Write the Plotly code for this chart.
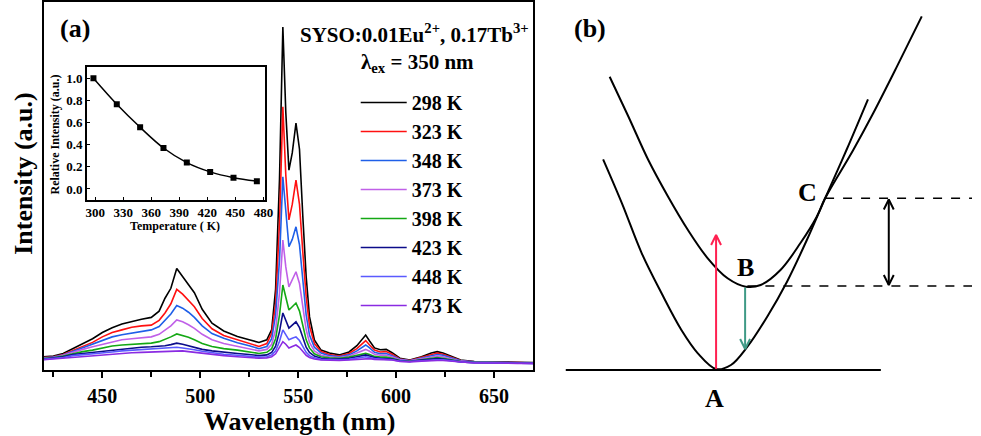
import plotly.graph_objects as go

W_PX, H_PX = 981, 436
FONT = "Liberation Serif"

# ---------------- Panel (a) data: emission spectra ----------------
wavelength = [420, 425, 430, 435, 440, 445, 450, 455, 460, 465, 470, 475, 479, 482, 485, 488,
              491, 494, 497, 501, 506, 512, 519, 525, 530, 534, 536.5, 538.5, 540.5, 542.2,
              543.7, 545.3, 547, 548.9, 550.7, 552.4, 554.1, 555.8, 558.3, 561.7, 566, 571,
              576, 580, 582.5, 584.5, 586.5, 589, 592, 595, 598, 602, 607, 613, 618, 621, 624,
              628, 633, 640, 648, 655, 662, 670]

I_298 = [0.036, 0.038, 0.045, 0.058, 0.070, 0.085, 0.102, 0.115, 0.125, 0.132, 0.138, 0.143, 0.160, 0.195, 0.222, 0.276,
         0.254, 0.232, 0.210, 0.165, 0.127, 0.106, 0.091, 0.082, 0.075, 0.082, 0.110, 0.220, 0.520, 0.932,
         0.700, 0.543, 0.590, 0.671, 0.600, 0.417, 0.254, 0.145, 0.082, 0.054, 0.046, 0.041,
         0.049, 0.066, 0.082, 0.095, 0.079, 0.060, 0.055, 0.056, 0.047, 0.032, 0.027, 0.036, 0.046, 0.050, 0.046,
         0.038, 0.027, 0.023, 0.023, 0.022, 0.021, 0.020]
I_323 = [0.034, 0.036, 0.042, 0.053, 0.063, 0.075, 0.090, 0.102, 0.109, 0.116, 0.120, 0.122, 0.135, 0.155, 0.180, 0.219,
         0.206, 0.190, 0.172, 0.140, 0.112, 0.094, 0.082, 0.073, 0.064, 0.072, 0.100, 0.180, 0.400, 0.715,
         0.530, 0.408, 0.450, 0.516, 0.450, 0.320, 0.200, 0.120, 0.072, 0.050, 0.042, 0.038,
         0.045, 0.058, 0.070, 0.080, 0.068, 0.054, 0.049, 0.050, 0.043, 0.030, 0.026, 0.034, 0.042, 0.046, 0.043,
         0.036, 0.026, 0.022, 0.022, 0.021, 0.020, 0.019]
I_348 = [0.033, 0.035, 0.041, 0.051, 0.060, 0.070, 0.080, 0.090, 0.096, 0.101, 0.105, 0.109, 0.118, 0.135, 0.152, 0.175,
         0.168, 0.157, 0.143, 0.120, 0.099, 0.086, 0.074, 0.066, 0.058, 0.064, 0.085, 0.150, 0.300, 0.525,
         0.420, 0.335, 0.355, 0.389, 0.340, 0.240, 0.150, 0.095, 0.062, 0.046, 0.039, 0.036,
         0.041, 0.052, 0.061, 0.068, 0.060, 0.048, 0.044, 0.045, 0.039, 0.029, 0.025, 0.032, 0.039, 0.042, 0.040,
         0.034, 0.025, 0.022, 0.021, 0.021, 0.020, 0.019]
I_373 = [0.032, 0.034, 0.040, 0.049, 0.056, 0.063, 0.070, 0.077, 0.082, 0.085, 0.087, 0.090, 0.097, 0.108, 0.120, 0.136,
         0.131, 0.123, 0.113, 0.097, 0.082, 0.072, 0.065, 0.059, 0.052, 0.056, 0.070, 0.110, 0.210, 0.353,
         0.280, 0.226, 0.245, 0.267, 0.235, 0.170, 0.110, 0.075, 0.052, 0.040, 0.036, 0.034,
         0.038, 0.046, 0.052, 0.056, 0.051, 0.043, 0.040, 0.040, 0.036, 0.028, 0.025, 0.030, 0.035, 0.038, 0.036,
         0.031, 0.024, 0.021, 0.021, 0.020, 0.020, 0.019]
I_398 = [0.031, 0.033, 0.038, 0.045, 0.050, 0.054, 0.060, 0.065, 0.068, 0.070, 0.071, 0.073, 0.077, 0.083, 0.090, 0.098,
         0.094, 0.089, 0.082, 0.072, 0.064, 0.058, 0.054, 0.050, 0.045, 0.048, 0.058, 0.085, 0.150, 0.231,
         0.195, 0.163, 0.172, 0.182, 0.160, 0.120, 0.082, 0.060, 0.044, 0.036, 0.033, 0.032,
         0.035, 0.040, 0.043, 0.045, 0.042, 0.037, 0.035, 0.035, 0.032, 0.026, 0.024, 0.028, 0.032, 0.034, 0.032,
         0.028, 0.023, 0.021, 0.020, 0.020, 0.019, 0.019]
I_423 = [0.030, 0.032, 0.036, 0.042, 0.045, 0.047, 0.050, 0.054, 0.058, 0.060, 0.062, 0.063, 0.064, 0.066, 0.069, 0.073,
         0.070, 0.066, 0.062, 0.056, 0.052, 0.048, 0.045, 0.042, 0.039, 0.041, 0.048, 0.065, 0.105, 0.155,
         0.135, 0.114, 0.122, 0.131, 0.115, 0.088, 0.062, 0.048, 0.038, 0.032, 0.030, 0.030,
         0.032, 0.036, 0.039, 0.041, 0.038, 0.034, 0.032, 0.032, 0.030, 0.025, 0.023, 0.027, 0.030, 0.031, 0.030,
         0.027, 0.022, 0.020, 0.020, 0.019, 0.019, 0.018]
I_448 = [0.029, 0.031, 0.034, 0.039, 0.041, 0.043, 0.046, 0.049, 0.052, 0.054, 0.055, 0.057, 0.058, 0.059, 0.060, 0.062,
         0.060, 0.058, 0.055, 0.051, 0.047, 0.043, 0.040, 0.037, 0.035, 0.036, 0.041, 0.052, 0.078, 0.109,
         0.096, 0.082, 0.086, 0.090, 0.080, 0.063, 0.048, 0.039, 0.033, 0.029, 0.028, 0.028,
         0.029, 0.032, 0.034, 0.036, 0.034, 0.031, 0.030, 0.030, 0.028, 0.024, 0.023, 0.025, 0.028, 0.028, 0.028,
         0.025, 0.022, 0.020, 0.019, 0.019, 0.019, 0.018]
I_473 = [0.028, 0.030, 0.032, 0.036, 0.038, 0.040, 0.042, 0.044, 0.046, 0.047, 0.048, 0.049, 0.050, 0.051, 0.052, 0.053,
         0.052, 0.050, 0.048, 0.045, 0.042, 0.039, 0.036, 0.034, 0.032, 0.033, 0.036, 0.044, 0.060, 0.077,
         0.070, 0.060, 0.064, 0.068, 0.061, 0.050, 0.040, 0.034, 0.030, 0.027, 0.026, 0.026,
         0.027, 0.029, 0.031, 0.032, 0.031, 0.029, 0.028, 0.028, 0.027, 0.023, 0.022, 0.024, 0.026, 0.026, 0.026,
         0.024, 0.021, 0.019, 0.019, 0.018, 0.018, 0.018]

series_labels = ["298 K", "323 K", "348 K", "373 K", "398 K", "423 K", "448 K", "473 K"]
series_values = [I_298, I_323, I_348, I_373, I_398, I_423, I_448, I_473]
series_colors = ["#000000", "#ff1010", "#1f5fe8", "#c060e8", "#14a814", "#0c0c8a", "#5a5aff", "#8a2be2"]

# inset: relative intensity vs temperature
inset_T = [298, 323, 348, 373, 398, 423, 448, 473]
inset_I = [1.0, 0.765, 0.557, 0.37, 0.238, 0.154, 0.102, 0.07]
inset_xticks = [300, 330, 360, 390, 420, 450, 480]
inset_yticks = [0.0, 0.2, 0.4, 0.6, 0.8, 1.0]
main_xticks = [450, 500, 550, 600, 650]

# ---------------- Panel (b) data: configuration coordinate diagram (pixel coords) ----------
ground_x = [607.7, 626.7, 646.7, 666.7, 686.7, 703.3, 721.7, 736.7, 753.3, 773.3, 793.3, 813.3, 831.7, 853.3, 875.0]
ground_y = [159.3, 203.3, 253.3, 293.3, 330.0, 353.3, 369.0, 365.0, 346.7, 316.7, 281.7, 240.0, 198.3, 150.0, 99.3]
excited_x = [614.3, 633.3, 653.3, 673.3, 693.3, 713.3, 733.3, 751.7, 766.7, 786.7, 806.7, 823.3, 831.7, 860.0, 880.0, 903.3, 929.3]
excited_y = [76.7, 116.7, 160.0, 196.7, 230.0, 258.3, 278.3, 286.7, 285.0, 270.0, 243.3, 216.7, 198.3, 150.2, 113.8, 68.4, 16.4]
baseline_x = [570, 888]
baseline_y = [370, 370]
dash_C_x = [831.7, 980]
dash_C_y = [198.3, 198.3]
dash_B_x = [753.3, 980]
dash_B_y = [286.0, 286.0]
# arrows: (x, y_start, y_tip, color)
arrows = [
    (721.7, 369.0, 235.0, "#ff2050"),
    (751.0, 287.5, 349.0, "#3f9a86"),
    (896.0, 242.0, 199.5, "#000000"),
    (896.0, 242.0, 285.0, "#000000"),
]

fig = go.Figure()

for lab, vals, col in zip(series_labels, series_values, series_colors):
    fig.add_trace(go.Scatter(x=wavelength, y=vals, mode="lines", name="<b>%s</b>" % lab,
                             line=dict(color=col, width=1.6), xaxis="x", yaxis="y"))

fig.add_trace(go.Scatter(x=inset_T, y=inset_I, mode="lines+markers", showlegend=False,
                         line=dict(color="black", width=1.5, shape="spline"),
                         marker=dict(symbol="square", size=6, color="black"),
                         xaxis="x3", yaxis="y3"))

# panel (b)
def bline(xs, ys, color="black", width=2, dash="solid"):
    fig.add_trace(go.Scatter(x=xs, y=ys, mode="lines", showlegend=False, hoverinfo="skip",
                             line=dict(color=color, width=width, dash=dash, shape="spline", smoothing=1.0),
                             xaxis="x2", yaxis="y2"))

bline(ground_x, ground_y)
bline(excited_x, excited_y)
bline(baseline_x, baseline_y)
bline(dash_C_x, dash_C_y, width=1.6, dash="dash")
bline(dash_B_x, dash_B_y, width=1.6, dash="dash")
for ax, y0, y1, col in arrows:
    bline([ax, ax], [y0, y1], color=col, width=2)
    d = 10 if y1 < y0 else -10
    fig.add_trace(go.Scatter(x=[ax - 5, ax, ax + 5], y=[y1 + d, y1, y1 + d], mode="lines",
                             showlegend=False, hoverinfo="skip",
                             line=dict(color=col, width=2), xaxis="x2", yaxis="y2"))

def px(x):
    return x / W_PX

def py(y):
    return 1 - y / H_PX

axis_font = dict(family=FONT, size=20, color="black")
fig.update_layout(
    width=W_PX, height=H_PX,
    margin=dict(l=0, r=0, t=0, b=0),
    paper_bgcolor="white", plot_bgcolor="white",
    font=dict(family=FONT, color="black"),
    xaxis=dict(domain=[px(43), px(537)], range=[420, 670], showline=True, linewidth=2, linecolor="black",
               mirror=True, ticks="outside", ticklen=6, tickwidth=1.5, tickcolor="black",
               tickvals=main_xticks, ticktext=["<b>%d</b>" % v for v in main_xticks],
               tickfont=axis_font, showgrid=False, zeroline=False, ticklabelstandoff=1,
               minor=dict(dtick=25, tick0=425, ticks="outside", ticklen=5, tickwidth=1.5, tickcolor="black",
                          showgrid=False),
               anchor="y"),
    yaxis=dict(domain=[py(370), py(2)], range=[0, 1.0], showline=True, linewidth=2, linecolor="black",
               mirror=True, showticklabels=False, ticks="", showgrid=False, zeroline=False, anchor="x"),
    xaxis2=dict(domain=[px(560), 1], range=[560, 981], visible=False, anchor="y2"),
    yaxis2=dict(domain=[0, 1], range=[436, 0], visible=False, anchor="x2"),
    xaxis3=dict(domain=[px(86.7), px(266.7)], range=[291, 482], showline=True, linewidth=1.5, linecolor="black",
                mirror=True, ticks="inside", ticklen=3, tickcolor="black",
                tickvals=inset_xticks, ticktext=["<b>%d</b>" % v for v in inset_xticks],
                tickfont=dict(family=FONT, size=13, color="black"), showgrid=False, zeroline=False,
                anchor="y3"),
    yaxis3=dict(domain=[py(200), py(66.7)], range=[-0.1, 1.105], showline=True, linewidth=1.5, linecolor="black",
                mirror=True, ticks="inside", ticklen=3, tickcolor="black",
                tickvals=inset_yticks, ticktext=["<b>%.1f</b>" % v for v in inset_yticks],
                tickfont=dict(family=FONT, size=13, color="black"), showgrid=False, zeroline=False,
                anchor="x3"),
    legend=dict(x=px(358), y=py(83), xanchor="left", yanchor="top", bgcolor="rgba(0,0,0,0)",
                font=dict(family=FONT, size=20, color="black"), tracegroupgap=0, itemwidth=46),
)

ann = [
    dict(text="<b>(a)</b>", x=px(75), y=py(28)),
    dict(text="<b>SYSO:0.01Eu<sup>2+</sup>, 0.17Tb<sup>3+</sup></b>", x=px(417), y=py(33), size=21),
    dict(text="<b>λ<sub>ex</sub> = 350 nm</b>", x=px(420), y=py(63), size=21),
    dict(text="<b>Wavelength (nm)</b>", x=px(301), y=py(421), size=26),
    dict(text="<b>Intensity (a.u.)</b>", x=px(22), y=py(173), size=26, angle=-90),
    dict(text="<b>Relative Intensity (a.u.)</b>", x=px(55), y=py(134), size=12, angle=-90),
    dict(text="<b>Temperature ( K)</b>", x=px(176), y=py(226), size=12),
    dict(text="<b>(b)</b>", x=px(594), y=py(28)),
    dict(text="<b>A</b>", x=px(720), y=py(398)),
    dict(text="<b>B</b>", x=px(751), y=py(267)),
    dict(text="<b>C</b>", x=px(814), y=py(193)),
]
for a in ann:
    fig.add_annotation(text=a["text"], x=a["x"], y=a["y"], xref="paper", yref="paper",
                       showarrow=False, xanchor="center", yanchor="middle", textangle=a.get("angle", 0),
                       font=dict(family=FONT, size=a.get("size", 26), color="black"))

fig.write_html("out.html", config={"displayModeBar": False},
               post_script="document.body.style.margin='0px';document.body.style.overflow='hidden';")
